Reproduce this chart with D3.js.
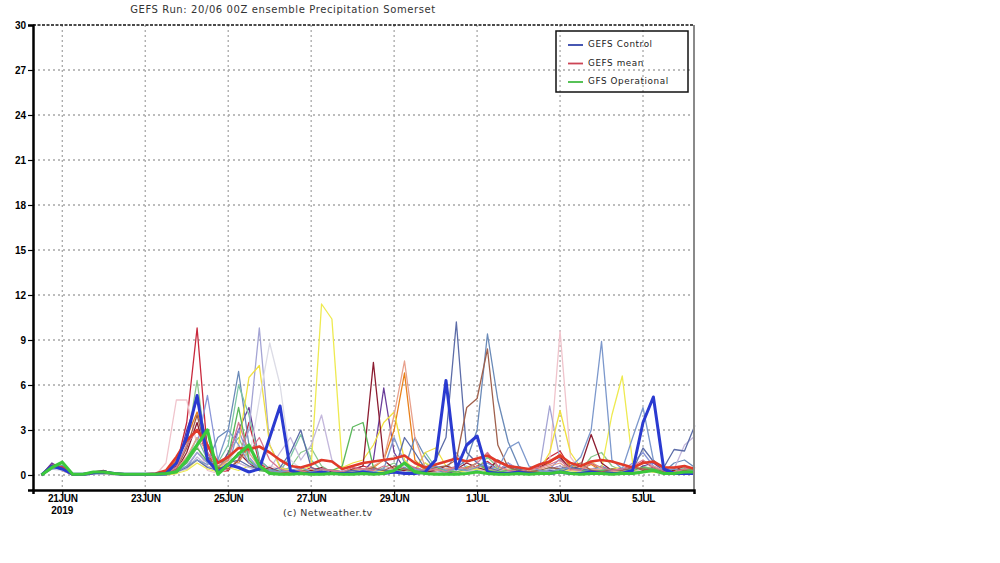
<!DOCTYPE html>
<html><head><meta charset="utf-8">
<script src="https://cdn.jsdelivr.net/npm/d3@7"></script>
<style>body{margin:0;background:#fff}svg{display:block}</style>
</head><body>
<svg id="c" width="1000" height="563"></svg>
<script>
const title = "GEFS Run: 20/06 00Z ensemble Precipitation Somerset";
const credit = "(c) Netweather.tv";
const firstStep = "2019-06-20T12:00:00Z";
const stepHours = 6;
const yTicks = [0,3,6,9,12,15,18,21,24,27,30];
const xTickDates = ["2019-06-21","2019-06-23","2019-06-25","2019-06-27","2019-06-29","2019-07-01","2019-07-03","2019-07-05"];
const xTickLabels = ["21JUN","23JUN","25JUN","27JUN","29JUN","1JUL","3JUL","5JUL"];
const yearLabel = "2019";
const legendNames = ["GEFS Control","GEFS mean","GFS Operational"];
const legendColors = ["#3344aa","#cc4455","#44bb44"];

const memberColors = ["#c8283c","#f0c4cc","#8cc88c","#6a3d9a","#8a96d8","#e8801a","#6a8ab8","#7cc4a4","#a4a4d4","#f0e040",
                      "#dcdce6","#eeea50","#c4b8dc","#8c1c30","#e8a08c","#5cb85c","#5c6ca8","#a0604c","#7c98cc","#d87890"];

const m01 = [0,0.7,0.3,0,0,0.1,0.2,0.1, 0,0,0,0,0.1,0.6,3.5,9.8, 1.5,0.2,0.3,1.0,3.5,0.8,0.3,0.2, 0.1,0.2,0.5,0.3,0.1,0.1,0.3,0.6, 0.4,0.2,0.3,0.5,0.2,0.1,0.3,0.5, 0.4,0.3,0.6,0.9,0.4,0.2,0.1,0.3, 0.6,1.2,1.6,0.5,0.3,0.8,0.4,0.3, 0.2,0.4,0.9,0.5,0.2,0.1,0.4,0.3];
const m02 = [0,0.5,0.4,0,0,0.2,0.1,0, 0,0,0,0,0.8,5.0,5.0,2.0, 0.3,0.1,0.4,0.8,0.5,0.3,0.6,0.4, 0.2,0.1,0.1,0.3,0.2,0.1,0.2,0.4, 0.5,0.3,0.2,0.6,0.4,0.2,0.1,0.3, 0.2,0.5,0.4,0.3,0.6,0.2,0.1,0.1, 0.3,1.0,9.6,1.2,0.3,0.4,0.2,0.1, 0.3,0.5,0.4,0.2,0.1,0.3,0.5,0.2];
const m03 = [0,0.6,0.5,0,0,0.2,0.2,0.1, 0,0,0,0,0.2,0.5,2.0,6.3, 1.0,0.3,1.5,2.5,1.0,0.4,0.2,0.3, 0.5,1.5,1.8,0.6,0.2,0.1,0.1,0.3, 0.2,0.5,0.8,0.3,0.4,0.8,0.3,0.1, 0.3,0.6,0.4,1.2,0.5,0.3,0.2,0.1, 0.4,0.2,0.5,0.8,0.3,1.2,1.5,0.6, 0.3,0.2,0.6,0.4,0.2,0.1,0.3,0.4];
const m04 = [0,0.8,0.4,0,0,0.1,0.3,0.1, 0,0,0,0,0.1,0.4,3.0,5.0, 2.0,0.3,1.5,3.0,4.5,1.0,0.4,0.2, 0.1,0.3,0.2,0.1,0.2,0.1,0.3,0.2, 1.0,5.8,1.5,0.4,0.2,0.3,0.6,0.2, 0.1,0.3,0.5,0.2,0.3,0.8,0.3,0.1, 0.2,0.4,0.6,0.2,0.1,0.3,0.2,0.3, 0.4,0.2,0.6,0.8,0.3,0.2,0.1,0.2];
const m05 = [0,0.5,0.6,0,0,0.1,0.1,0.1, 0,0,0,0,0,0.2,0.8,2.0, 5.3,1.0,0.6,3.0,1.2,0.4,0.2,0.1, 0.2,0.4,0.3,0.1,0.3,0.2,0.1,0.2, 0.3,0.4,0.2,0.5,0.3,0.6,0.2,0.3, 1.5,0.4,0.3,0.6,0.4,0.2,0.3,0.1, 0.2,0.4,1.1,0.3,0.2,0.4,0.6,0.2, 0.3,0.8,1.5,0.6,0.3,0.2,0.1,0.2];
const m06 = [0,0.6,0.3,0,0,0.2,0.2,0.1, 0,0,0,0,0.2,1.0,2.5,4.2, 2.0,0.5,1.0,0.8,2.0,0.6,0.3,0.2, 0.1,0.2,0.3,0.2,0.1,0.2,0.4,0.3, 0.5,1.0,3.0,6.8,1.0,0.3,0.2,0.4, 0.3,0.5,0.8,0.4,0.3,0.6,0.2,0.1, 0.5,0.8,1.4,0.6,0.4,0.7,0.3,0.2, 0.4,0.3,0.5,0.2,0.3,0.4,0.2,0.1];
const m07 = [0,0.4,0.5,0,0,0.1,0.2,0.1, 0,0,0,0,0,0.3,0.5,1.5, 0.8,2.5,3.0,6.9,2.0,0.5,0.2,0.3, 0.2,0.1,0.2,0.1,0.3,0.2,0.1,0.2, 0.2,0.3,0.1,0.4,2.5,1.2,0.3,0.2, 0.5,1.0,3.0,9.4,5.0,2.2,0.6,0.2, 0.1,0.3,0.2,0.5,0.2,0.3,0.6,0.3, 0.2,0.1,0.3,0.5,0.2,0.8,1.0,0.5];
const m08 = [0,0.5,0.6,0,0,0.2,0.2,0.1, 0,0,0,0,0.1,0.3,1.0,2.5, 1.0,0.8,2.0,6.0,4.0,1.0,0.4,0.3, 1.2,2.7,1.0,0.3,0.2,0.1,0.2,0.3, 0.1,0.2,0.4,0.2,0.3,1.5,0.5,0.2, 0.3,0.2,0.4,0.3,0.5,0.2,0.1,0.3, 0.2,0.5,0.3,0.2,0.4,0.3,0.2,0.1, 0.2,0.3,0.2,0.4,0.3,0.2,0.5,0.3];
const m09 = [0,0.6,0.4,0,0,0.1,0.1,0.1, 0,0,0,0,0,0.2,0.6,1.5, 0.8,0.4,1.0,1.2,3.0,9.8,2.0,0.6, 0.2,0.3,0.1,0.2,0.1,0.3,0.2,0.1, 0.3,0.2,0.5,0.4,0.2,0.3,0.5,0.3, 0.2,0.3,0.2,0.5,0.3,0.8,0.4,0.2, 0.3,4.6,1.0,0.4,0.2,0.3,0.5,0.2, 0.3,0.2,0.4,0.3,0.2,0.3,0.2,0.1];
const m10 = [0,0.5,0.5,0,0,0.1,0.2,0.1, 0,0,0,0,0,0.2,0.4,1.0, 0.6,0.4,1.0,2.0,6.5,7.3,2.0,0.5, 0.3,0.2,0.1,0.2,0.3,0.5,0.8,1.0, 2.0,3.5,4.2,1.0,0.3,1.5,1.8,0.6, 0.4,0.3,0.5,0.2,0.4,0.3,0.2,0.1, 0.3,1.5,4.3,1.5,0.5,0.3,0.2,0.4, 0.5,0.3,0.4,0.2,0.3,0.2,0.4,0.3];
const m11 = [0,0.4,0.3,0,0,0.1,0.1,0, 0,0,0,0,0,0.1,0.5,1.0, 0.5,0.3,0.8,2.0,1.0,5.0,8.8,6.0, 1.0,0.4,0.2,0.3,0.2,0.1,0.2,0.3, 0.2,0.3,0.4,0.6,0.3,0.2,0.4,0.5, 0.3,0.2,0.4,0.3,0.2,0.5,0.3,0.2, 0.4,0.3,0.5,0.2,0.3,0.4,0.2,0.3, 0.5,0.4,0.3,0.2,0.4,0.3,0.2,0.3];
const m12 = [0,0.5,0.4,0,0,0.2,0.1,0.1, 0,0,0,0,0,0.1,0.3,0.8, 0.4,0.2,0.5,0.3,0.6,0.4,0.2,0.1, 0.2,0.3,0.6,11.4,10.4,0.6,0.2,0.1, 0.3,0.2,0.5,0.3,0.4,0.8,0.5,0.3, 0.2,0.3,0.4,0.2,0.5,0.3,0.2,0.1, 0.3,0.2,0.4,0.3,0.2,0.9,0.4,4.0, 6.6,0.8,0.3,0.2,0.4,0.3,0.2,0.3];
const m13 = [0,0.6,0.3,0,0,0.1,0.2,0.1, 0,0,0,0,0.1,0.2,0.4,1.2, 0.6,0.3,0.4,0.8,0.5,0.3,0.4,1.5, 2.5,1.0,2.0,4.0,1.0,0.3,0.2,0.1, 0.2,0.4,0.3,0.2,0.5,0.3,0.2,0.4, 0.6,0.3,0.2,0.4,0.3,0.2,0.5,0.3, 0.2,0.3,0.6,0.4,0.2,0.3,0.4,0.2, 0.3,0.5,0.4,0.3,0.2,0.4,2.0,2.6];
const m14 = [0,0.7,0.5,0,0,0.2,0.3,0.1, 0,0,0,0,0,0.3,1.5,3.5, 1.0,0.4,0.6,1.5,0.8,0.3,0.5,0.2, 0.1,0.2,0.3,0.5,0.2,0.1,0.4,0.6, 7.5,1.0,0.4,0.3,0.5,0.2,0.3,0.6, 0.4,0.8,0.5,0.3,1.0,0.6,0.2,0.3, 0.5,0.9,1.2,0.4,0.6,2.7,0.8,0.3, 0.4,0.6,0.3,0.5,0.2,0.3,0.6,0.4];
const m15 = [0,0.5,0.4,0,0,0.1,0.2,0.1, 0,0,0,0,0.1,0.4,1.2,2.5, 1.5,0.6,0.8,1.0,1.5,0.5,0.3,0.2, 0.3,0.2,0.4,0.3,0.1,0.2,0.3,0.4, 0.6,1.0,4.0,7.6,2.5,0.5,0.3,0.4, 0.5,0.3,0.6,0.4,0.3,0.5,0.2,0.3, 0.4,0.6,0.8,0.3,0.5,0.4,0.3,0.2, 0.3,0.5,0.4,0.6,0.3,0.2,0.4,0.3];
const m16 = [0,0.6,0.5,0,0,0.2,0.2,0.1, 0,0,0,0,0.1,0.3,0.8,1.8, 0.9,0.5,1.2,4.5,1.0,0.3,0.2,0.1, 0.2,0.3,0.2,0.4,0.3,0.6,3.2,3.5, 0.5,0.3,0.2,0.4,0.3,0.2,0.5,0.3, 0.2,0.4,0.8,0.3,0.2,0.3,0.4,0.2, 0.3,0.2,0.4,0.5,0.3,0.2,0.3,0.4, 0.2,0.3,0.5,0.4,0.3,0.2,0.4,0.3];
const m17 = [0,0.5,0.6,0,0,0.1,0.1,0.1, 0,0,0,0,0,0.2,0.5,1.0, 0.5,0.3,0.8,1.0,0.6,0.4,0.3,0.5, 1.5,3.0,0.5,0.2,0.1,0.2,0.3,0.2, 0.4,0.3,0.2,2.5,1.5,0.4,1.0,2.5, 10.2,1.5,0.8,0.5,0.3,0.6,0.4,0.2, 0.1,0.3,0.2,0.5,0.4,0.3,0.2,0.3, 0.4,0.3,1.8,0.9,0.5,1.7,1.6,3.3];
const m18 = [0,0.6,0.4,0,0,0.2,0.2,0.1, 0,0,0,0,0.1,0.4,1.8,4.0, 1.2,0.5,0.4,1.0,2.0,0.6,0.3,0.2, 0.1,0.3,0.2,0.4,0.3,0.2,0.1,0.3, 0.5,0.3,0.6,0.4,0.2,0.3,0.5,0.6, 1.0,4.5,5.1,8.4,2.0,0.5,0.3,0.2, 0.3,0.5,0.4,0.6,0.8,0.3,0.2,0.4, 0.3,0.5,0.4,0.3,0.2,0.4,0.3,0.2];
const m19 = [0,0.4,0.5,0,0,0.1,0.2,0.1, 0,0,0,0,0,0.2,0.6,1.0, 0.7,1.0,3.0,2.0,0.8,0.5,0.3,0.2, 0.3,0.5,0.2,0.4,0.3,0.2,0.1,0.3, 0.2,0.4,2.5,0.8,0.4,0.3,0.6,0.3, 0.4,0.3,0.5,0.8,0.4,1.8,2.2,0.6, 0.3,0.2,0.4,0.5,1.2,3.0,8.9,1.0, 0.4,2.5,4.5,1.0,0.3,0.4,0.2,0.3];
const m20 = [0,0.7,0.4,0,0,0.2,0.2,0.1, 0,0,0,0,0.1,0.5,2.0,3.0, 1.5,0.6,1.0,3.5,1.5,2.5,1.0,0.4, 0.2,0.3,0.1,0.4,0.3,0.2,0.5,0.4, 0.3,0.6,0.4,0.8,0.5,0.3,0.4,0.2, 0.6,0.4,0.8,1.5,0.6,0.3,0.2,0.4, 0.5,0.7,1.0,0.4,0.3,0.8,0.5,0.3, 0.4,0.6,1.0,0.5,0.3,0.2,0.4,0.5];

const gefsControl = [0,0.6,0.4,0.05,0.05,0.15,0.2,0.1, 0.05,0.05,0.05,0.05,0.1,0.8,2.5,5.3, 1.0,0.2,0.7,0.5,0.2,0.4,2.5,4.6, 0.3,0.1,0.1,0.2,0.1,0.1,0.1,0.2, 0.1,0.1,0.2,0.1,0.1,0.2,1.0,6.3, 0.4,2.0,2.6,0.2,0.1,0.1,0.2,0.1, 0.1,0.1,0.2,0.1,0.1,0.2,0.1,0.1, 0.1,0.3,3.5,5.2,0.4,0.1,0.1,0.1];
const gefsMean = [0,0.6,0.5,0.05,0.05,0.15,0.2,0.1, 0.05,0.05,0.05,0.1,0.3,1.2,2.3,3.0, 2.0,0.8,1.2,1.8,1.7,1.9,1.5,1.0, 0.6,0.5,0.7,1.0,0.9,0.4,0.6,0.8, 0.9,1.0,1.1,1.3,0.8,0.5,0.7,0.9, 1.1,0.9,1.1,1.3,0.9,0.6,0.5,0.4, 0.7,0.9,1.3,0.8,0.6,0.9,1.0,0.9, 0.7,0.5,0.8,0.9,0.5,0.5,0.6,0.4];
const gfsOperational = [0,0.5,0.85,0.05,0.05,0.2,0.2,0.1, 0.05,0.05,0.05,0.05,0.1,0.2,1.0,2.0, 3.0,0.05,0.7,1.4,2.0,0.6,0.1,0.05, 0.05,0.1,0.05,0.05,0.1,0.05,0.05,0.1, 0.05,0.1,0.3,0.8,0.2,0.1,0.05,0.05, 0.05,0.1,0.2,0.1,0.05,0.05,0.1,0.05, 0.1,0.1,0.2,0.1,0.05,0.1,0.1,0.05, 0.1,0.1,0.2,0.3,0.1,0.1,0.2,0.2];

const members = [m01,m02,m03,m04,m05,m06,m07,m08,m09,m10,m11,m12,m13,m14,m15,m16,m17,m18,m19,m20];

const svg = d3.select("#c");
const W = {left:33, right:694, top:25, bottom:490};
const t0 = new Date(firstStep).getTime();
const timeAt = i => new Date(t0 + i*stepHours*3600e3);

const x = d3.scaleUtc()
  .domain([new Date("2019-06-20T07:03:00Z"), new Date("2019-07-06T05:30:00Z")])
  .range([W.left, W.right]);
const y = d3.scaleLinear().domain([-1, 30]).range([W.bottom, W.top]);

// grid
const g = svg.append("g");
g.selectAll("line.hg").data(yTicks.filter(v => v < 30)).join("line")
  .attr("x1", W.left).attr("x2", W.right)
  .attr("y1", d => y(d)).attr("y2", d => y(d))
  .attr("stroke", "#a8a8a8").attr("stroke-width", 1.3).attr("stroke-dasharray", "2,3");
g.selectAll("line.vg").data(xTickDates).join("line")
  .attr("x1", d => x(new Date(d+"T00:00:00Z"))).attr("x2", d => x(new Date(d+"T00:00:00Z")))
  .attr("y1", W.top).attr("y2", W.bottom)
  .attr("stroke", "#a8a8a8").attr("stroke-width", 1.3).attr("stroke-dasharray", "2,3");

// lines
const line = d3.line().x((d,i) => x(timeAt(i))).y(d => y(d));
const lg = svg.append("g");
members.forEach((arr, k) => {
  lg.append("path").datum(arr).attr("d", line)
    .attr("fill","none").attr("stroke", memberColors[k]).attr("stroke-width", 1.3)
    .attr("stroke-linejoin","round");
});
lg.append("path").datum(gefsMean).attr("d", line).attr("fill","none")
  .attr("stroke","#e03a2a").attr("stroke-width",2.6).attr("stroke-linejoin","round");
lg.append("path").datum(gefsControl).attr("d", line).attr("fill","none")
  .attr("stroke","#2a3ad0").attr("stroke-width",3).attr("stroke-linejoin","round");
lg.append("path").datum(gfsOperational).attr("d", line).attr("fill","none")
  .attr("stroke","#3cc83c").attr("stroke-width",3.2).attr("stroke-linejoin","round");

// frame
svg.append("line").attr("x1",W.left).attr("x2",W.right).attr("y1",W.top).attr("y2",W.top)
  .attr("stroke","#111").attr("stroke-width",1.5).attr("stroke-dasharray","3,1.5");
svg.append("line").attr("x1",W.right).attr("x2",W.right).attr("y1",W.top).attr("y2",W.bottom)
  .attr("stroke","#8a8a8a").attr("stroke-width",2);

// axes
const yAxis = svg.append("g").attr("transform",`translate(${W.left},0)`)
  .call(d3.axisLeft(y).tickValues(yTicks).tickSize(5).tickPadding(2).tickFormat(d3.format("d")));
yAxis.select(".domain").attr("stroke","#000").attr("stroke-width",2.5);
yAxis.selectAll(".tick line").attr("stroke","#000").attr("stroke-width",1.2);
yAxis.selectAll(".tick text").attr("font-family","'Liberation Sans', Arial, sans-serif")
  .attr("font-weight","bold").attr("font-size",10).attr("fill","#000");

const xAxis = svg.append("g").attr("transform",`translate(0,${W.bottom})`)
  .call(d3.axisBottom(x).tickValues(xTickDates.map(d => new Date(d+"T00:00:00Z")))
    .tickSize(4).tickPadding(1).tickFormat((d,i) => xTickLabels[i]));
xAxis.select(".domain").attr("stroke","#000").attr("stroke-width",2.5);
xAxis.selectAll(".tick line").attr("stroke","#000").attr("stroke-width",1.2);
xAxis.selectAll(".tick text").attr("font-family","'Liberation Sans', Arial, sans-serif")
  .attr("font-weight","bold").attr("font-size",10).attr("fill","#000").attr("letter-spacing","-0.3");
svg.append("text").attr("x", x(new Date(xTickDates[0]+"T00:00:00Z"))).attr("y", 514)
  .attr("text-anchor","middle").attr("font-family","'Liberation Sans', Arial, sans-serif")
  .attr("font-weight","bold").attr("font-size",10).text(yearLabel);

// title & credit
svg.append("text").attr("x",283).attr("y",13).attr("text-anchor","middle")
  .attr("font-family","'DejaVu Sans', sans-serif").attr("font-size",10).attr("letter-spacing",0.6)
  .attr("fill","#333").text(title);
svg.append("text").attr("x",283).attr("y",516).attr("text-anchor","start")
  .attr("font-family","'DejaVu Sans', sans-serif").attr("font-size",9.5).attr("letter-spacing",0.4)
  .attr("fill","#333").text(credit);

// legend
const leg = svg.append("g");
leg.append("rect").attr("x",556).attr("y",31).attr("width",132).attr("height",61)
  .attr("fill","none").attr("stroke","#111").attr("stroke-width",1.5);
legendNames.forEach((n,i) => {
  const cy = 44 + i*18.5;
  leg.append("line").attr("x1",568).attr("x2",583).attr("y1",cy+1).attr("y2",cy+1)
    .attr("stroke",legendColors[i]).attr("stroke-width",1.8);
  leg.append("text").attr("x",588).attr("y",cy+3).attr("font-family","'DejaVu Sans', sans-serif")
    .attr("font-size",8.8).attr("letter-spacing",0.6).attr("fill","#222").text(n);
});
</script>
</body></html>
